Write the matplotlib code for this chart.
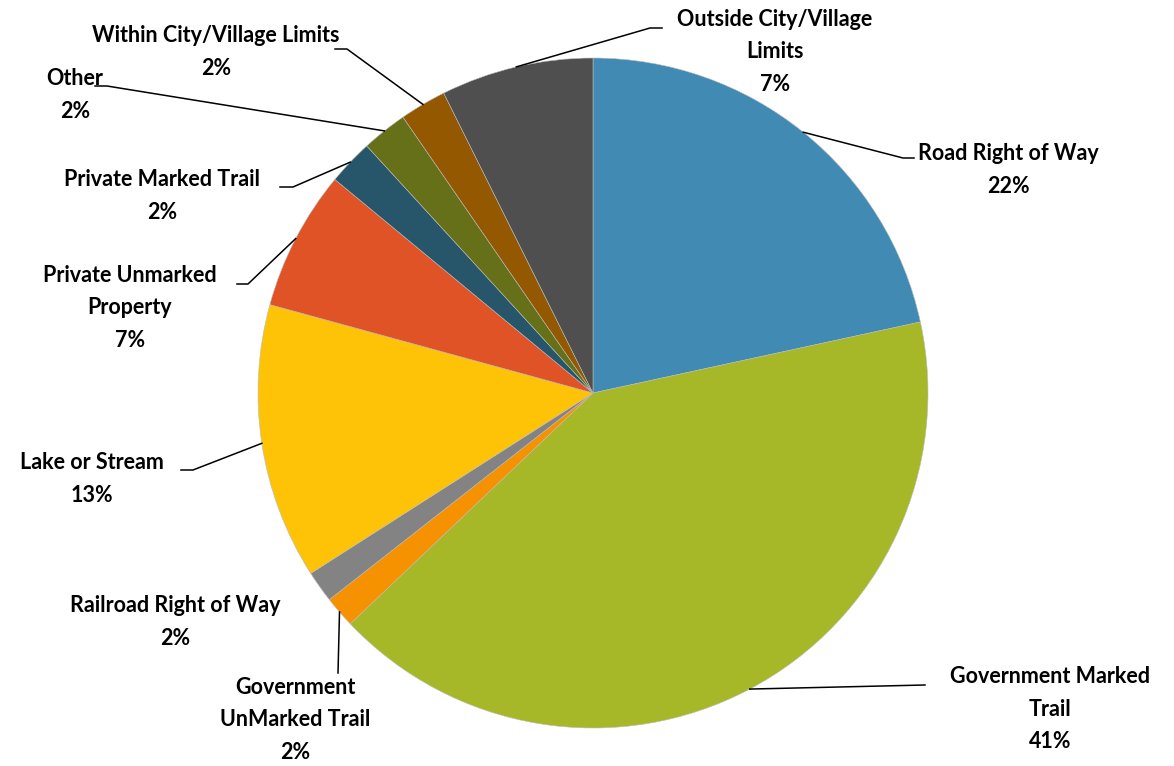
import matplotlib
matplotlib.use("Agg")
import matplotlib.pyplot as plt
import numpy as np

# slices, clockwise from 12 o'clock
categories = ["Road Right of Way", "Government Marked\nTrail", "Government\nUnMarked Trail",
              "Railroad Right of Way", "Lake or Stream", "Private Unmarked\nProperty",
              "Private Marked Trail", "Other", "Within City/Village Limits",
              "Outside City/Village\nLimits"]
shares = [21.6, 41.3, 1.52, 1.53, 13.3, 6.75, 2.2, 2.2, 2.25, 7.35]
colors = ["#418AB3", "#A6B727", "#F69200", "#838383", "#FEC306",
          "#DF5327", "#275569", "#657018", "#935800", "#4F4F4F"]

# label layout in pixels: text centre, leader elbow, leader end (None = no leader)
label_pos = [(1008, 170), (1050, 709), (295, 720), (175, 622), (92, 479),
             (130, 308), (162, 196), (75, 95), (216, 52), (775, 52)]
elbows = [(903, 158), (925, 685), (338, 673), None, (193, 470),
          (248, 284), (293, 187), (107, 86), (347, 49), (650, 28)]
ends = [(914, 158), None, None, None, (181, 470),
        (237, 284), (280, 187), (95, 86), (335, 49), (662, 28)]

W, H = 1174, 766
CX, CY, R = 593, 393, 335


def px(p):
    """pixel -> data coords (pie radius = 1)"""
    return ((p[0] - CX) / R, (CY - p[1]) / R)


def main():
    fig = plt.figure(figsize=(W / 100, H / 100), dpi=100)
    ax = fig.add_axes([0, 0, 1, 1])
    wedges, _ = ax.pie(shares, colors=colors, startangle=90, counterclock=False,
                       radius=1, wedgeprops=dict(linewidth=0.4, edgecolor="#bbbbbb"))
    ax.set_xlim(-CX / R, (W - CX) / R)
    ax.set_ylim(-(H - CY) / R, CY / R)
    ax.set_aspect("auto")
    ax.axis("off")

    total = sum(shares)
    for i, w in enumerate(wedges):
        pct = shares[i] / total * 100
        txt = "%s\n%d%%" % (categories[i], int(round(pct)))
        tx, ty = px(label_pos[i])
        ax.text(tx, ty, txt, ha="center", va="center", fontsize=15.5,
                fontweight="bold", family="Lato", linespacing=1.7, color="black")
        if elbows[i] is None:
            continue
        mid = np.deg2rad((w.theta1 + w.theta2) / 2)
        pts = [(np.cos(mid), np.sin(mid)), px(elbows[i])]
        if ends[i] is not None:
            pts.append(px(ends[i]))
        xs, ys = zip(*pts)
        ax.plot(xs, ys, color="black", linewidth=1.1)

    fig.savefig("out.png", dpi=100)


main()
